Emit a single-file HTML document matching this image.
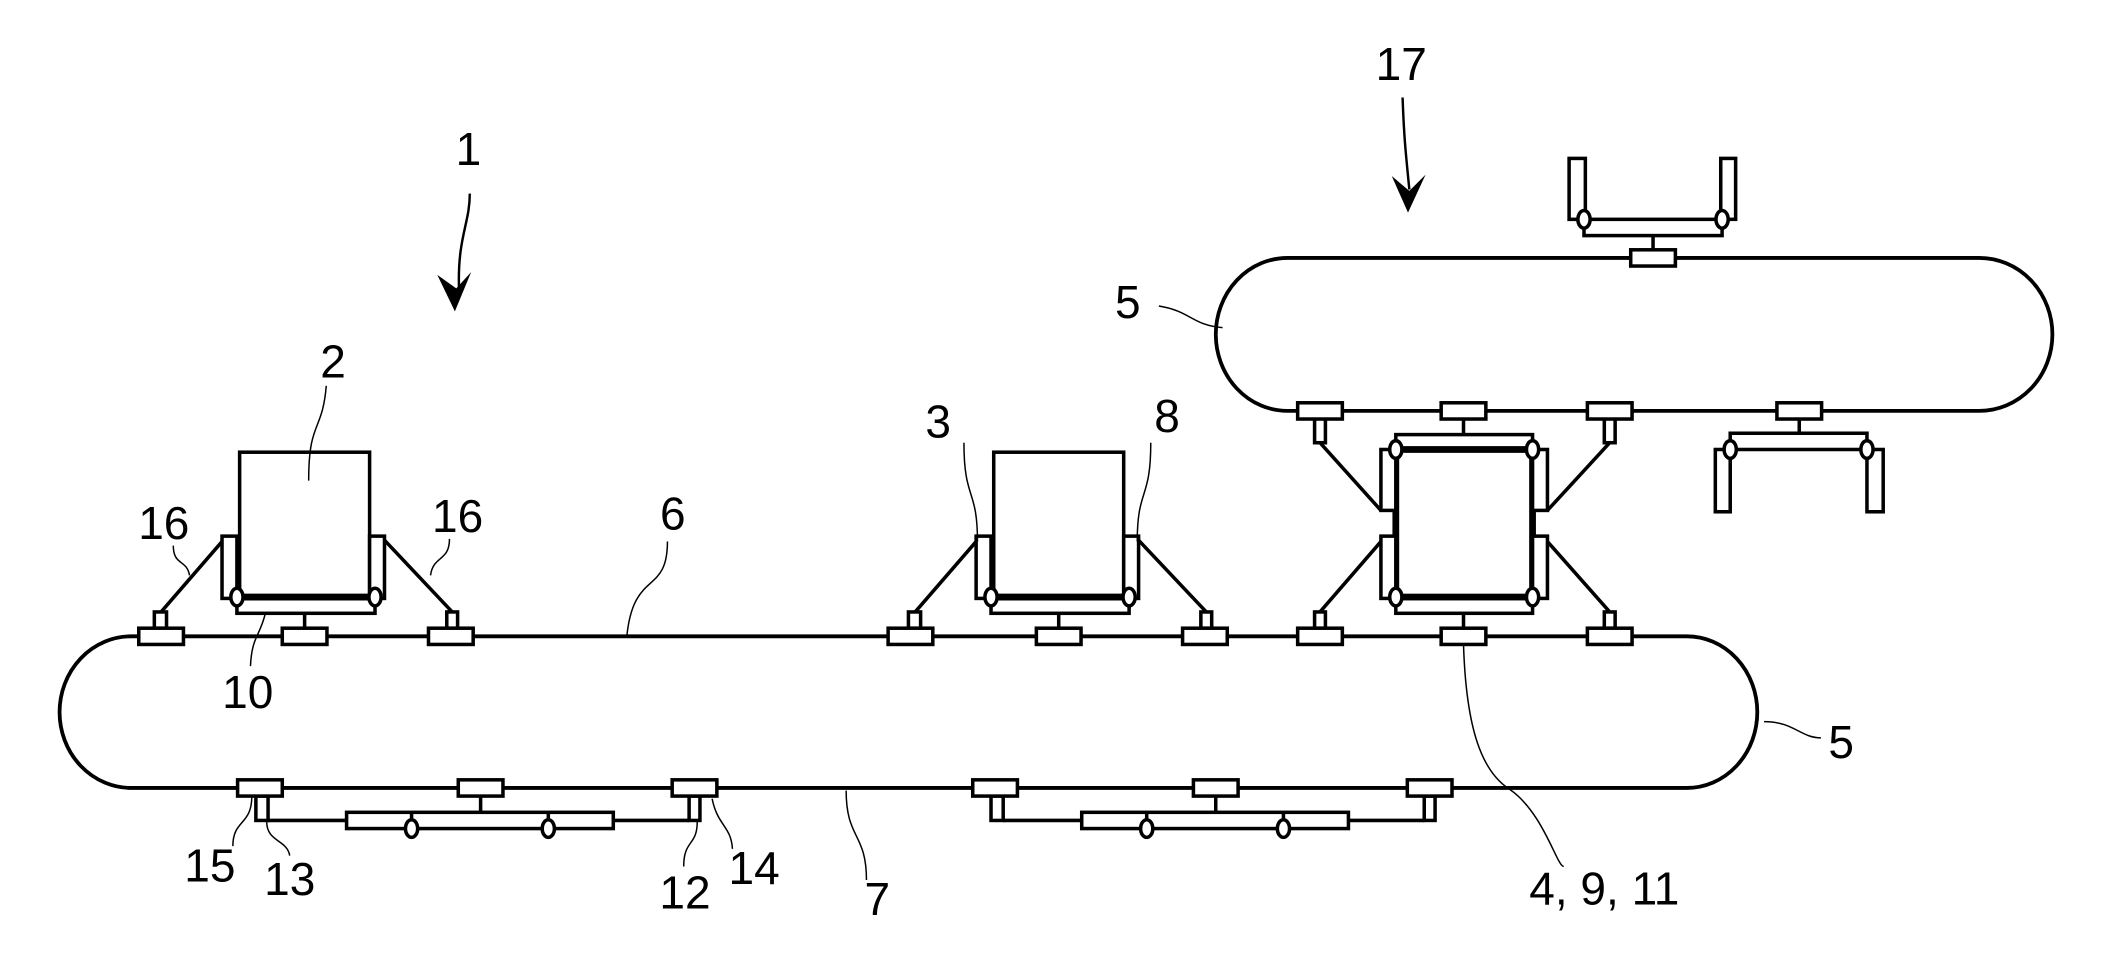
<!DOCTYPE html>
<html><head><meta charset="utf-8"><style>
html,body{margin:0;padding:0;background:#fff;}
svg{display:block;}
text{font-family:"Liberation Sans Narrow","Liberation Sans",sans-serif;font-size:34px;fill:#000;text-anchor:middle;}
</style></head><body>
<svg width="2112" height="966" viewBox="0 0 1560 713.5" xmlns="http://www.w3.org/2000/svg">
<g fill="none" stroke="#000" stroke-width="2.8">
<path d="M97,470 H1246 A52,56 0 0 1 1246,582 H97 A53,56 0 0 1 97,470 Z"/>
<path d="M951,190.5 H1462 A54,56.5 0 0 1 1462,303.5 H951 A53,56.5 0 0 1 951,190.5 Z"/>
</g>
<defs>
<g id="upcar" fill="#fff" stroke="#000" stroke-width="2.6">
<rect x="177" y="334" width="96" height="107"/>
<rect x="164" y="396" width="11" height="46"/>
<rect x="273" y="396" width="11" height="46"/>
<rect x="175" y="441" width="102" height="12"/>
<line x1="175" y1="441" x2="277" y2="441" stroke-width="5"/>
<line x1="225" y1="453" x2="225" y2="464"/>
<rect x="114" y="452" width="9" height="12"/>
<rect x="330" y="452" width="8" height="12"/>
<line x1="164" y1="400" x2="119" y2="452"/>
<line x1="284" y1="399" x2="334" y2="452"/>
<ellipse cx="175" cy="441" rx="4.5" ry="6.5"/>
<ellipse cx="277" cy="441" rx="4.5" ry="6.5"/>
</g>
<g id="lowcar" fill="#fff" stroke="#000" stroke-width="2.6">
<rect x="189" y="588" width="9" height="18"/>
<rect x="509" y="588" width="8" height="18"/>
<line x1="198" y1="606" x2="256" y2="606"/>
<line x1="453" y1="606" x2="509" y2="606"/>
<line x1="355" y1="588" x2="355" y2="600"/>
<rect x="256" y="600" width="197" height="12"/>
<line x1="304" y1="600" x2="304" y2="612"/>
<line x1="405" y1="600" x2="405" y2="612"/>
<ellipse cx="304" cy="612" rx="4.5" ry="6.5"/>
<ellipse cx="405" cy="612" rx="4.5" ry="6.5"/>
</g>
</defs>
<use href="#upcar"/>
<use href="#upcar" x="557"/>
<use href="#lowcar"/>
<use href="#lowcar" x="543"/>
<g fill="#fff" stroke="#000" stroke-width="2.6">
<line x1="975" y1="327" x2="1020" y2="377"/>
<line x1="1189" y1="327" x2="1143" y2="377"/>
<line x1="975" y1="452" x2="1020" y2="400"/>
<line x1="1189" y1="452" x2="1143" y2="400"/>
<rect x="1031" y="321" width="101" height="11"/>
<rect x="1031" y="441" width="101" height="12"/>
<rect x="1031" y="332" width="101" height="109" stroke-width="5"/>
<rect x="1020" y="332" width="11" height="45"/>
<rect x="1020" y="396" width="11" height="46"/>
<rect x="1132" y="332" width="11" height="45"/>
<rect x="1132" y="396" width="11" height="46"/>
<line x1="1081" y1="309" x2="1081" y2="321"/>
<line x1="1081" y1="453" x2="1081" y2="464"/>
<rect x="971" y="309" width="8" height="18"/>
<rect x="1185" y="309" width="8" height="18"/>
<rect x="971" y="452" width="8" height="12"/>
<rect x="1185" y="452" width="8" height="12"/>
<ellipse cx="1031" cy="332" rx="4.5" ry="6.5"/>
<ellipse cx="1132" cy="332" rx="4.5" ry="6.5"/>
<ellipse cx="1031" cy="441" rx="4.5" ry="6.5"/>
<ellipse cx="1132" cy="441" rx="4.5" ry="6.5"/>
<line x1="1329" y1="309" x2="1329" y2="320"/>
<rect x="1278" y="320" width="101" height="12"/>
<rect x="1267" y="332" width="11" height="46"/>
<rect x="1379" y="332" width="12" height="46"/>
<ellipse cx="1278" cy="332" rx="4.5" ry="6.5"/>
<ellipse cx="1379" cy="332" rx="4.5" ry="6.5"/>
<line x1="1221" y1="185" x2="1221" y2="174"/>
<rect x="1170" y="162" width="102" height="12"/>
<rect x="1159" y="117" width="12" height="45"/>
<rect x="1271" y="117" width="11" height="45"/>
<ellipse cx="1170" cy="162" rx="4.5" ry="6.5"/>
<ellipse cx="1272" cy="162" rx="4.5" ry="6.5"/>
<rect x="102.5" y="464" width="33" height="12"/>
<rect x="208.5" y="464" width="33" height="12"/>
<rect x="316.5" y="464" width="33" height="12"/>
<rect x="656" y="464" width="33" height="12"/>
<rect x="765.5" y="464" width="33" height="12"/>
<rect x="873.5" y="464" width="33" height="12"/>
<rect x="958.5" y="464" width="33" height="12"/>
<rect x="1064.5" y="464" width="33" height="12"/>
<rect x="1172.5" y="464" width="33" height="12"/>
<rect x="175.5" y="576" width="33" height="12"/>
<rect x="338.5" y="576" width="33" height="12"/>
<rect x="496.5" y="576" width="33" height="12"/>
<rect x="718.5" y="576" width="33" height="12"/>
<rect x="881.5" y="576" width="33" height="12"/>
<rect x="1039.5" y="576" width="33" height="12"/>
<rect x="958.5" y="297.5" width="33" height="12"/>
<rect x="1064.5" y="297.5" width="33" height="12"/>
<rect x="1172.5" y="297.5" width="33" height="12"/>
<rect x="1312.5" y="297.5" width="33" height="12"/>
<rect x="1204.5" y="184.5" width="33" height="12"/>
</g>
<g stroke="#000" fill="none" stroke-width="1.8">
<path d="M347,143 C347,165 338,175 339,212"/>
<path d="M1036,72 C1037,100 1038,110 1041,140"/>
</g>
<path d="M336,230 L323,203 L337,213 L348,201 Z" fill="#000"/>
<path d="M1040,157 L1028,130 L1041,141 L1053,129 Z" fill="#000"/>
<g stroke="#000" fill="none" stroke-width="1.1">
<path d="M241,285 C238,320 228,310 228,355"/>
<path d="M128,403 C128,418 138,413 140,425"/>
<path d="M332,398 C332,415 320,410 318,425"/>
<path d="M493,400 C493,440 468,420 463,470"/>
<path d="M196,453 C192,470 186,470 185,492"/>
<path d="M712,327 C712,370 722,360 722,400"/>
<path d="M850,327 C850,370 840,360 840,400"/>
<path d="M856,226 C880,230 880,240 903,242"/>
<path d="M1345,545 C1330,545 1325,533 1303,533"/>
<path d="M1081,476 C1083,540 1095,570 1115,583 C1140,600 1150,640 1155,640"/>
<path d="M186,588 C186,610 172,605 172,625"/>
<path d="M197,607 C197,622 212,620 214,632"/>
<path d="M515,607 C515,625 505,620 505,640"/>
<path d="M526,590 C530,610 540,610 541,627"/>
<path d="M625,584 C625,620 640,615 640,650"/>
</g>
<text x="346" y="122">1</text>
<text x="1035" y="59">17</text>
<text x="246" y="279">2</text>
<text x="121" y="398">16</text>
<text x="338" y="393">16</text>
<text x="497" y="391">6</text>
<text x="183" y="523">10</text>
<text x="693" y="323">3</text>
<text x="862" y="319">8</text>
<text x="833" y="235">5</text>
<text x="1360" y="560">5</text>
<text x="1185" y="668">4, 9, 11</text>
<text x="155" y="651">15</text>
<text x="214" y="661">13</text>
<text x="506" y="671">12</text>
<text x="557" y="653">14</text>
<text x="648" y="676">7</text>
</svg>
</body></html>
